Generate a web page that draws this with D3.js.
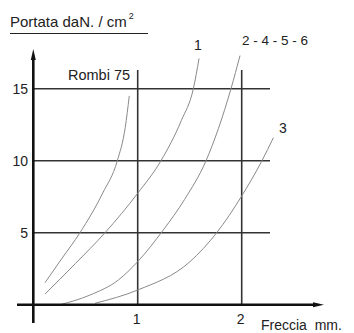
<!DOCTYPE html>
<html><head><meta charset="utf-8">
<script src="https://cdn.jsdelivr.net/npm/d3@7"></script>
<style>html,body{margin:0;padding:0;background:#fff;}svg{display:block;}</style>
</head><body>
<svg id="c" width="354" height="333"></svg>
<script>
const xTicks = [1, 2];
const yTicks = [5, 10, 15];
const seriesNames = ["Rombi 75", "1", "2 - 4 - 5 - 6", "3"];
const rombi75 = [[0.109,1.53],[0.27,3.2],[0.445,5],[0.664,7.76],[0.804,10],[0.88,12.3],[0.919,14.5]];
const curve1 = [[0.109,0.74],[0.4,2.85],[0.686,5],[1.0,7.74],[1.224,10],[1.42,12.8],[1.535,15],[1.59,17.1]];
const curve2456 = [[0.253,0],[0.541,0.67],[0.813,1.71],[1.0,2.99],[1.246,5.19],[1.45,7.3],[1.657,10],[1.897,15],[1.984,17.3]];
const curve3 = [[0.59,0.1],[1.0,1.02],[1.503,2.99],[1.76,5],[2.0,7.55],[2.195,10],[2.305,11.6]];

const svg = d3.select("#c");
const x = d3.scaleLinear().domain([0, 2]).range([33.7, 241.7]);
const y = d3.scaleLinear().domain([0, 15]).range([304.7, 88.7]);
const font = "Liberation Sans, Arial, sans-serif";

// grid
const grid = svg.append("g").attr("stroke", "#333").attr("stroke-width", 1.6);
yTicks.forEach(v => grid.append("line").attr("x1", x(0)).attr("x2", 270).attr("y1", y(v)).attr("y2", y(v)));
xTicks.forEach(v => grid.append("line").attr("x1", x(v)).attr("x2", x(v)).attr("y1", 70).attr("y2", y(0)));

// curves
const line = d3.line().x(d => x(d[0])).y(d => y(d[1])).curve(d3.curveMonotoneX);
[rombi75, curve1, curve2456, curve3].forEach(s =>
  svg.append("path").attr("d", line(s)).attr("fill", "none").attr("stroke", "#8a8a8a").attr("stroke-width", 1));

// axes
const ax = svg.append("g").attr("stroke", "#111").attr("stroke-width", 2.6);
ax.append("line").attr("x1", 17).attr("x2", 316).attr("y1", y(0)).attr("y2", y(0));
ax.append("line").attr("x1", 33.3).attr("x2", 33.3).attr("y1", 323).attr("y2", 58);
svg.append("path").attr("d", `M324,${y(0)} L313,${y(0)-2.5} L313,${y(0)+2.5} Z`).attr("fill", "#111");
svg.append("path").attr("d", `M33.3,49 L30.8,60 L35.8,60 Z`).attr("fill", "#111");

// tick labels
const t = svg.append("g").attr("font-family", font).attr("font-size", 14).attr("fill", "#222");
yTicks.forEach(v => t.append("text").attr("x", 28).attr("y", y(v) + 5).attr("text-anchor", "end").text(v));
xTicks.forEach(v => t.append("text").attr("x", x(v) - 1).attr("y", 324).attr("text-anchor", "middle").text(v));

// titles
const tt = svg.append("g").attr("font-family", font).attr("fill", "#222");
const ttl = tt.append("text").attr("x", 10).attr("y", 27).attr("font-size", 15);
ttl.append("tspan").text("Portata daN. / cm");
ttl.append("tspan").attr("font-size", 9).attr("dy", -8).attr("dx", 2).text("2");
svg.append("line").attr("x1", 10).attr("x2", 148).attr("y1", 33.5).attr("y2", 33.5).attr("stroke", "#222").attr("stroke-width", 1.2);
tt.append("text").attr("x", 261).attr("y", 330).attr("font-size", 14).attr("xml:space", "preserve").style("white-space", "pre").text("Freccia  mm.");
tt.append("text").attr("x", 68).attr("y", 80).attr("font-size", 14.5).text(seriesNames[0]);
tt.append("text").attr("x", 194).attr("y", 50).attr("font-size", 14).text(seriesNames[1]);
tt.append("text").attr("x", 242).attr("y", 45).attr("font-size", 13.5).text(seriesNames[2]);
tt.append("text").attr("x", 279).attr("y", 133).attr("font-size", 14).text(seriesNames[3]);
</script>
</body></html>
